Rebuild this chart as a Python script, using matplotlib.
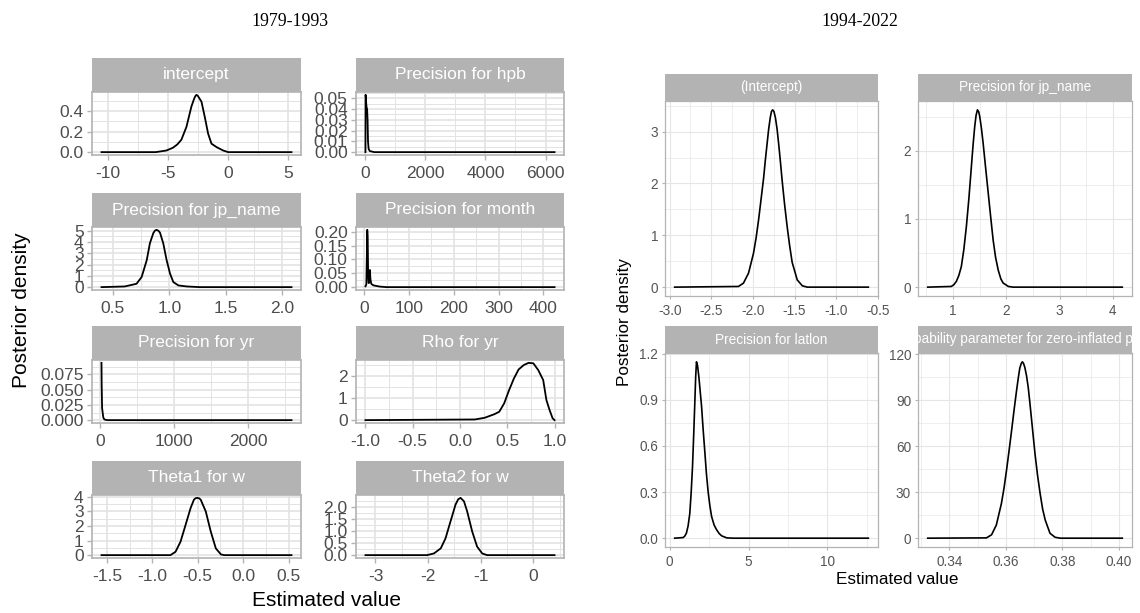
import matplotlib
matplotlib.use("Agg")
import matplotlib.pyplot as plt
from matplotlib.ticker import MultipleLocator

plt.rcParams['font.family'] = ['Liberation Sans', 'DejaVu Sans']

W, H = 1140, 613

# ---------------- data: 1979-1993 ----------------
intercept_x = [-10.5, -8.0, -6.0, -5.1, -4.56, -4.2, -3.86, -3.44, -3.03, -2.8, -2.7, -2.61, -2.5,
               -2.4, -2.19, -1.92, -1.64, -1.36, -0.94, -0.39, 0.03, 2.0, 5.29]
intercept_y = [0.0, 0.0, 0.0, 0.016, 0.043, 0.075, 0.121, 0.246, 0.443, 0.52, 0.545, 0.557, 0.548,
               0.53, 0.49, 0.344, 0.18, 0.082, 0.049, 0.016, 0.0, 0.0, 0.0]

hpb_x = [5, 10, 20, 30, 45, 60, 75, 90, 110, 150, 300, 1000, 6300]
hpb_y = [0.0, 0.053, 0.050, 0.045, 0.041, 0.040, 0.030, 0.010, 0.003, 0.001, 0.0, 0.0, 0.0]

jp1_x = [0.40, 0.606, 0.71, 0.755, 0.80, 0.828, 0.858, 0.873, 0.888, 0.903, 0.917, 0.946, 0.976,
         1.006, 1.035, 1.08, 1.154, 1.27, 1.5, 2.08]
jp1_y = [0.0, 0.06, 0.30, 0.90, 2.39, 3.89, 4.79, 5.02, 5.08, 5.0, 4.84, 3.89, 2.39,
         1.20, 0.45, 0.15, 0.06, 0.0, 0.0, 0.0]

month_x = [3, 5, 6, 7, 8, 9, 10, 11, 12, 13, 14, 16, 20, 25, 35, 50, 425]
month_y = [0.003, 0.01, 0.10, 0.207, 0.18, 0.04, 0.015, 0.015, 0.04, 0.062, 0.03, 0.012,
           0.007, 0.005, 0.002, 0.0, 0.0]

yr_x = [20, 22, 28, 35, 45, 60, 100, 2590]
yr_y = [0.094, 0.06, 0.02, 0.013, 0.004, 0.001, 0.0, 0.0]

rho_x = [-1.0, 0.158, 0.26, 0.364, 0.415, 0.467, 0.519, 0.57, 0.62, 0.674, 0.725, 0.776,
         0.828, 0.88, 0.914, 0.948, 0.98, 1.0]
rho_y = [0.0, 0.03, 0.106, 0.27, 0.38, 0.76, 1.36, 1.89, 2.30, 2.50, 2.60, 2.58,
         2.27, 1.82, 0.91, 0.45, 0.08, 0.0]

theta1_x = [-1.559, -0.8, -0.744, -0.689, -0.633, -0.578, -0.541, -0.522, -0.503, -0.485, -0.467,
            -0.411, -0.356, -0.30, -0.244, -0.208, 0.533]
theta1_y = [0.0, 0.0, 0.23, 0.92, 2.08, 3.23, 3.81, 3.91, 3.93, 3.90, 3.81,
            3.0, 1.62, 0.46, 0.05, 0.0, 0.0]

theta2_x = [-3.19, -2.02, -1.89, -1.76, -1.67, -1.575, -1.48, -1.43, -1.385, -1.32, -1.26, -1.163,
            -1.07, -0.973, -0.88, 0.40]
theta2_y = [0.0, 0.0, 0.07, 0.28, 0.69, 1.39, 2.08, 2.30, 2.36, 2.22, 1.81, 0.97,
            0.35, 0.07, 0.0, 0.0]

# ---------------- data: 1994-2022 ----------------
icpt2_x = [-2.94, -2.174, -2.114, -2.053, -1.993, -1.962, -1.932, -1.902, -1.872, -1.851, -1.831,
           -1.811, -1.791, -1.777, -1.763, -1.748, -1.73, -1.71, -1.69, -1.67, -1.65, -1.62,
           -1.589, -1.559, -1.529, -1.468, -1.407, -1.347, -0.614]
icpt2_y = [0.0, 0.013, 0.077, 0.27, 0.655, 0.95, 1.30, 1.70, 2.10, 2.45, 2.75,
           3.05, 3.28, 3.39, 3.42, 3.39, 3.27, 3.05, 2.75, 2.42, 2.07, 1.60,
           1.17, 0.80, 0.48, 0.14, 0.026, 0.0, 0.0]

jp2_x = [0.528, 0.97, 1.017, 1.064, 1.111, 1.158, 1.205, 1.253, 1.30, 1.347, 1.38, 1.41, 1.435,
         1.46, 1.485, 1.504, 1.535, 1.566, 1.61, 1.66, 1.71, 1.755, 1.80, 1.85, 1.90, 1.943,
         2.04, 2.13, 4.177]
jp2_y = [0.0, 0.01, 0.035, 0.083, 0.17, 0.30, 0.55, 0.89, 1.30, 1.77, 2.10, 2.36, 2.52,
         2.60, 2.57, 2.50, 2.33, 2.12, 1.78, 1.40, 1.02, 0.69, 0.44, 0.25, 0.12, 0.06,
         0.01, 0.0, 0.0]

latlon_x = [0.319, 0.85, 0.95, 1.06, 1.17, 1.276, 1.36, 1.447, 1.52, 1.595, 1.65, 1.70, 1.77,
            1.85, 1.93, 2.02, 2.12, 2.23, 2.33, 2.44, 2.55, 2.66, 2.82, 2.98, 3.14, 3.30, 3.62,
            4.04, 12.59]
latlon_y = [0.0, 0.004, 0.012, 0.032, 0.08, 0.16, 0.29, 0.46, 0.66, 0.88, 1.05, 1.146, 1.12,
            1.05, 0.96, 0.86, 0.71, 0.56, 0.42, 0.30, 0.21, 0.14, 0.085, 0.054, 0.03, 0.015, 0.002,
            0.0, 0.0]

zip_x = [0.3323, 0.3531, 0.3549, 0.3566, 0.3584, 0.3593, 0.3602, 0.3611, 0.3620, 0.3629, 0.3638,
         0.3644, 0.3649, 0.3654, 0.3658, 0.3662, 0.3667, 0.3673, 0.3679, 0.3685, 0.3691, 0.3697,
         0.3703, 0.3712, 0.3721, 0.3730, 0.3739, 0.3756, 0.3774, 0.3792, 0.4012]
zip_y = [0.0, 0.2, 2.2, 8.6, 22.7, 32.5, 44.3, 57.0, 70.3, 84.0, 97.0,
         105.0, 111.0, 114.0, 115.2, 114.3, 111.5, 106.0, 98.4, 88.0, 77.0, 66.0,
         55.0, 41.0, 29.2, 19.0, 11.9, 3.2, 0.6, 0.0, 0.0]

# titles / ticks
left_title = "1979-1993"
right_title = "1994-2022"
y_title = "Posterior density"
x_title = "Estimated value"

left_facets = [
    ("intercept", intercept_x, intercept_y, [-10, -5, 0, 5], ["-10", "-5", "0", "5"],
     [0.0, 0.2, 0.4], ["0.0", "0.2", "0.4"]),
    ("Precision for hpb", hpb_x, hpb_y, [0, 2000, 4000, 6000], ["0", "2000", "4000", "6000"],
     [0.0, 0.01, 0.02, 0.03, 0.04, 0.05], ["0.00", "0.01", "0.02", "0.03", "0.04", "0.05"]),
    ("Precision for jp_name", jp1_x, jp1_y, [0.5, 1.0, 1.5, 2.0], ["0.5", "1.0", "1.5", "2.0"],
     [0, 1, 2, 3, 4, 5], ["0", "1", "2", "3", "4", "5"]),
    ("Precision for month", month_x, month_y, [0, 100, 200, 300, 400], ["0", "100", "200", "300", "400"],
     [0.0, 0.05, 0.10, 0.15, 0.20], ["0.00", "0.05", "0.10", "0.15", "0.20"]),
    ("Precision for yr", yr_x, yr_y, [0, 1000, 2000], ["0", "1000", "2000"],
     [0.0, 0.025, 0.05, 0.075], ["0.000", "0.025", "0.050", "0.075"]),
    ("Rho for yr", rho_x, rho_y, [-1.0, -0.5, 0.0, 0.5, 1.0], ["-1.0", "-0.5", "0.0", "0.5", "1.0"],
     [0, 1, 2], ["0", "1", "2"]),
    ("Theta1 for w", theta1_x, theta1_y, [-1.5, -1.0, -0.5, 0.0, 0.5], ["-1.5", "-1.0", "-0.5", "0.0", "0.5"],
     [0, 1, 2, 3, 4], ["0", "1", "2", "3", "4"]),
    ("Theta2 for w", theta2_x, theta2_y, [-3, -2, -1, 0], ["-3", "-2", "-1", "0"],
     [0.0, 0.5, 1.0, 1.5, 2.0], ["0.0", "0.5", "1.0", "1.5", "2.0"]),
]

right_facets = [
    ("(Intercept)", icpt2_x, icpt2_y, [-3.0, -2.5, -2.0, -1.5, -1.0, -0.5],
     ["-3.0", "-2.5", "-2.0", "-1.5", "-1.0", "-0.5"], [0, 1, 2, 3], ["0", "1", "2", "3"]),
    ("Precision for jp_name", jp2_x, jp2_y, [1, 2, 3, 4], ["1", "2", "3", "4"],
     [0, 1, 2], ["0", "1", "2"]),
    ("Precision for latlon", latlon_x, latlon_y, [0, 5, 10], ["0", "5", "10"],
     [0.0, 0.3, 0.6, 0.9, 1.2], ["0.0", "0.3", "0.6", "0.9", "1.2"]),
    ("zero-probability parameter for zero-inflated poisson_1", zip_x, zip_y,
     [0.34, 0.36, 0.38, 0.40], ["0.34", "0.36", "0.38", "0.40"],
     [0, 30, 60, 90, 120], ["0", "30", "60", "90", "120"]),
]

fig = plt.figure(figsize=(W / 100, H / 100), dpi=100)


def facet(left, top, width, strip_h, plot_h, facet_def, st):
    name, xs, ys, xt, xl, yt, yl = facet_def
    ax = fig.add_axes([left / W, 1 - (top + strip_h + plot_h) / H, width / W, plot_h / H])
    sax = fig.add_axes([left / W, 1 - (top + strip_h) / H, width / W, strip_h / H])
    sax.set_facecolor(st['strip'])
    sax.set_xticks([]); sax.set_yticks([])
    for s in sax.spines.values():
        s.set_visible(False)
    sax.text(0.5, 0.5, name, ha='center', va='center', color='white',
             fontsize=st['strip_fs'], transform=sax.transAxes, clip_on=True)

    ax.plot(xs, ys, color='black', lw=st['lw'], solid_joinstyle='round')
    ax.margins(x=0.05, y=0.05)
    ax.set_xticks(xt)
    ax.set_xticklabels(xl)
    ax.set_yticks(yt)
    ax.set_yticklabels(yl)
    ax.xaxis.set_minor_locator(MultipleLocator((xt[1] - xt[0]) / 2))
    ax.yaxis.set_minor_locator(MultipleLocator((yt[1] - yt[0]) / 2))
    ax.grid(True, which='major', color=st['grid'], lw=st['grid_lw'])
    ax.grid(True, which='minor', color=st['grid'], lw=st['grid_lw'] * 0.6)
    ax.set_axisbelow(True)
    ax.tick_params(which='major', length=st['tick_len'], width=st['tick_w'], color=st['border'],
                   labelsize=st['tick_fs'], labelcolor=st['tick_col'], pad=st['pad'])
    ax.tick_params(axis='x', which='major', pad=st['xpad'])
    ax.tick_params(which='minor', length=0)
    for s in ax.spines.values():
        s.set_color(st['border'])
        s.set_linewidth(st['border_lw'])
    return ax


left_style = dict(strip='#b3b3b3', strip_fs=12.5, lw=1.3, grid='#e3e3e3', grid_lw=1.2,
                  tick_len=3.5, tick_w=1.0, border='#b3b3b3', border_lw=1.2,
                  tick_fs=12.5, tick_col='#4d4d4d', pad=2.5, xpad=4.5)
right_style = dict(strip='#b3b3b3', strip_fs=9.8, lw=1.2, grid='#e6e6e6', grid_lw=0.8,
                   tick_len=2.5, tick_w=0.8, border='#b3b3b3', border_lw=0.9,
                   tick_fs=9.8, tick_col='#555555', pad=2.5, xpad=3.0)

# left block
left_cols = [(92, 209), (356, 208)]
left_rows = [58, 193, 326, 461]
for i, fd in enumerate(left_facets):
    r, c = divmod(i, 2)
    facet(left_cols[c][0], left_rows[r], left_cols[c][1], 34, 63, fd, left_style)

# right block
right_cols = [(665, 213), (918, 214)]
right_rows = [(74, 27, 195), (326, 27, 194)]
for i, fd in enumerate(right_facets):
    r, c = divmod(i, 2)
    top, sh, ph = right_rows[r]
    facet(right_cols[c][0], top, right_cols[c][1], sh, ph, fd, right_style)

# titles and axis labels
fig.text(290 / W, 1 - 21 / H, left_title, ha='center', va='center', fontsize=12.8,
         family='Liberation Serif')
fig.text(860 / W, 1 - 21 / H, right_title, ha='center', va='center', fontsize=12.8,
         family='Liberation Serif')
fig.text(22 / W, 1 - 310 / H, y_title, ha='center', va='center', rotation=90, fontsize=15)
fig.text(327 / W, 1 - 600 / H, x_title, ha='center', va='center', fontsize=15)
fig.text(625 / W, 1 - 322 / H, y_title, ha='center', va='center', rotation=90, fontsize=12.3)
fig.text(897 / W, 1 - 579 / H, x_title, ha='center', va='center', fontsize=12.3)

fig.savefig("out.png", dpi=100)
